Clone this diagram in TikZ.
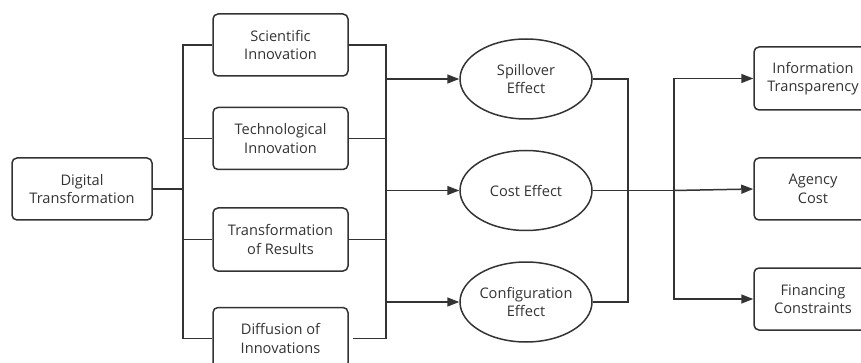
\documentclass[tikz,border=0pt]{standalone}
\usepackage{fontspec}
\setmainfont{Open Sans}
\usetikzlibrary{arrows.meta,positioning,calc,shapes.geometric}
\definecolor{ink}{RGB}{51,51,51}

\begin{document}
\begin{tikzpicture}[x=1pt,y=-1pt,>={Triangle[length=12pt,width=9pt]},
  every node/.style={align=center,font=\fontsize{14.6}{18.5}\selectfont,text=ink},
  boxnode/.style={draw=ink,line width=1.5pt,rounded corners=5pt,inner sep=0pt},
  effect/.style={draw=ink,line width=1.5pt,ellipse,minimum width=132pt,minimum height=80pt,inner sep=0pt},
  link/.style={draw=ink,line width=1.5pt}]
  \clip (0,0) rectangle (861,363);
  % source
  \node[boxnode,minimum width=140pt,minimum height=62pt] (dt) at (82,189) {Digital\\Transformation};
  % innovation channels
  \node[boxnode,minimum width=135pt,minimum height=62pt] (sci) at (280.5,45) {Scientific\\Innovation};
  \node[boxnode,minimum width=135pt,minimum height=62pt,below=30pt of sci] (tech) {Technological\\Innovation};
  \node[boxnode,minimum width=135pt,minimum height=63pt,below=37pt of tech] (res) {Transformation\\of Results};
  \node[boxnode,minimum width=135pt,minimum height=62pt,below=35pt of res] (diff) {Diffusion of\\Innovations};
  % effects
  \node[effect] (spill) at (526,79) {Spillover\\Effect};
  \node[effect,below=30pt of spill] (cost) {Cost Effect};
  \node[effect,below=30pt of cost] (conf) {Configuration\\Effect};
  % outcomes
  \node[boxnode,minimum width=118pt,minimum height=63pt] (info) at (813,78.5) {Information\\Transparency};
  \node[boxnode,minimum width=118pt,minimum height=62pt] (agency) at (813,189) {Agency\\Cost};
  \node[boxnode,minimum width=118pt,minimum height=62pt] (fin) at (813,299) {Financing\\Constraints};

  \coordinate (lb) at ($(dt.east)+(30,0)$);
  \coordinate (rb) at ($(sci.east)+(37,0)$);
  \coordinate (cb) at ($(spill.east)+(35,0)$);
  \coordinate (db) at ($(cost.east)+(81,0)$);

  \draw[link] (dt.east) -- (lb);
  \draw[link] (sci.west) -| (lb) |- (diff.west);
  \draw[link] (tech.west) -- (tech.west -| lb);
  \draw[link] (res.west) -- (res.west -| lb);
  \draw[link] (sci.east) -| (rb) |- ([xshift=4pt]diff.east);
  \draw[link] (tech.east) -- (tech.east -| rb);
  \draw[link] (res.east) -- (res.east -| rb);
  \draw[link,->] (spill.west -| rb) -- (spill.west);
  \draw[link,->] (cost.west -| rb) -- (cost.west);
  \draw[link,->] (conf.west -| rb) -- (conf.west);
  \draw[link] (spill.east) -| (cb) |- (conf.east);
  \draw[link] (cost.east) -- (db);
  \draw[link,->] (db) |- (info.west);
  \draw[link,->] (db) -- (agency.west);
  \draw[link,->] (db) |- (fin.west);
\end{tikzpicture}
\end{document}
